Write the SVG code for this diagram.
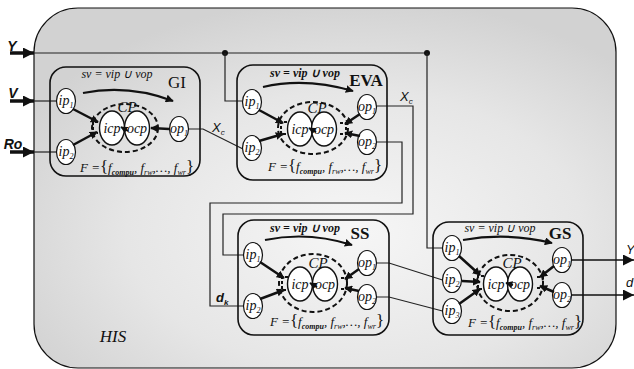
<svg xmlns="http://www.w3.org/2000/svg" width="634" height="369" viewBox="0 0 634 369">
<defs>
<radialGradient id="bg" cx="0.55" cy="0.62" r="0.65">
<stop offset="0" stop-color="#f6f6f6"/>
<stop offset="0.6" stop-color="#e6e6e6"/>
<stop offset="1" stop-color="#d2d2d2"/>
</radialGradient>
<marker id="ah" viewBox="0 0 10 10" refX="9" refY="5" markerWidth="8" markerHeight="8" markerUnits="userSpaceOnUse" orient="auto"><path d="M0,0 L10,5 L0,10 z" fill="#111"/></marker>
<marker id="ahb" viewBox="0 0 10 10" refX="10" refY="5" markerWidth="11" markerHeight="11" markerUnits="userSpaceOnUse" orient="auto"><path d="M0,0 L10,5 L0,10 z" fill="#111"/></marker>
<marker id="ahs" viewBox="0 0 10 10" refX="9" refY="5" markerWidth="7" markerHeight="7" markerUnits="userSpaceOnUse" orient="auto"><path d="M0,0 L10,5 L0,10 z" fill="#111"/></marker>
</defs>
<style>
.blk{fill:none;stroke:#111;stroke-width:1.6}
.pe{fill:#fff;stroke:#111;stroke-width:1.2}
.ce{fill:#fff;stroke:#111;stroke-width:1.4}
.cp{fill:none;stroke:#111;stroke-width:2;stroke-dasharray:5 3}
.br{fill:none;stroke:#111;stroke-width:2;stroke-dasharray:3 2}
.ta{stroke:#111;stroke-width:2.5;fill:none;marker-end:url(#ah)}
.ca{stroke:#111;stroke-width:2.2;fill:none;marker-end:url(#ah)}
.sa{stroke:#111;stroke-width:2;marker-end:url(#ahs)}
.ln{fill:none;stroke:#222;stroke-width:1.2}
.ia{stroke:#111;stroke-width:3.5;marker-end:url(#ahb)}
.oa{stroke:#111;stroke-width:1.3;marker-end:url(#ahb)}
.s{font-family:"Liberation Serif","Times New Roman",serif;font-style:italic;fill:#111}
.sv{font-size:12px;text-anchor:middle}
.nm{font-family:"Liberation Serif","Times New Roman",serif;font-size:17px;fill:#111;text-anchor:middle}
.pl{font-size:14px;text-anchor:middle}
.cl{font-size:14px;text-anchor:middle}
.cpt{font-size:15px;text-anchor:middle}
.ft{font-size:13px;text-anchor:middle}
.sans{font-family:"Liberation Sans",Arial,sans-serif;font-style:italic;fill:#111}
</style>

<g id="HIS">
<rect x="34" y="8" width="582" height="360" rx="44" fill="url(#bg)" stroke="#111" stroke-width="1.2"/>
<text class="s" x="113" y="342" font-size="17" text-anchor="middle">HIS</text>
</g>

<g id="connectors">
<line class="ia" x1="10" y1="53" x2="34" y2="53"/>
<line class="ia" x1="10" y1="101" x2="34" y2="101"/>
<line class="ia" x1="10" y1="152" x2="34" y2="152"/>
<path class="ln" d="M34 53 H427"/>
<circle cx="225" cy="53" r="3" fill="#111"/>
<circle cx="427" cy="53" r="3" fill="#111"/>
<path class="ln" d="M225 53 V101 H242.5"/>
<path class="ln" d="M427 53 V248 H442.5"/>
<path class="ln" d="M34 101 H56.5"/>
<path class="ln" d="M34 152 H56.5"/>
<path class="ln" d="M188.5 129 H203 L243 149"/>
<path class="ln" d="M376.5 106 H413 V214 H223 V255 H243.5"/>
<path class="ln" d="M376.5 142 H402 V203 H210 V306 H243.5"/>
<path class="ln" d="M376.5 263 H389 L442.5 280"/>
<path class="ln" d="M376.5 297 H389 L442.5 311"/>
<line class="oa" x1="571.5" y1="260" x2="634" y2="260"/>
<line class="oa" x1="571.5" y1="295" x2="634" y2="295"/>
<text class="sans" x="12" y="51" font-size="14" font-weight="bold" text-anchor="middle">Y</text>
<text class="sans" x="13" y="98" font-size="14" font-weight="bold" text-anchor="middle">V</text>
<text class="sans" x="13" y="149" font-size="14" font-weight="bold" text-anchor="middle">Ro</text>
<text class="sans" x="212" y="132" font-size="13">X<tspan font-size="8" dy="3">c</tspan></text>
<text class="sans" x="400" y="101" font-size="13">X<tspan font-size="8" dy="3">c</tspan></text>
<text class="sans" x="216" y="302" font-size="13" font-weight="bold">d<tspan font-size="8" dy="3">k</tspan></text>
<text class="sans" x="626" y="254" font-size="13">Y</text>
<text class="sans" x="626" y="287" font-size="13">d</text>
</g>

<g id="GI">
<rect class="blk" x="50" y="67" width="150" height="109" rx="16"/>
<text class="s sv" x="117" y="78" fill="#333">sv = vip ∪ vop</text>
<text class="nm" x="177" y="88">GI</text>
<path class="ca" d="M83 93 Q128 84 173 101"/>
<ellipse class="cp" cx="125" cy="128" rx="33" ry="24"/>
<ellipse class="ce" cx="112" cy="128" rx="12.5" ry="17"/>
<ellipse class="ce" cx="137" cy="128" rx="12.5" ry="17"/>
<text class="s cpt" x="127" y="112">CP</text>
<text class="s cl" x="112" y="133">icp</text>
<text class="s cl" x="137" y="133">ocp</text>
<line class="sa" x1="128" y1="131" x2="121" y2="127"/>
<path class="br" d="M98 122 h-5 v11 h5"/>
<ellipse class="pe" cx="66" cy="101" rx="9.5" ry="12.5"/>
<text class="s pl" x="66" y="105">ip<tspan font-size="8" dy="3">1</tspan></text>
<ellipse class="pe" cx="66" cy="152" rx="9.5" ry="12.5"/>
<text class="s pl" x="66" y="156">ip<tspan font-size="8" dy="3">2</tspan></text>
<ellipse class="pe" cx="179" cy="129" rx="9.5" ry="12.5"/>
<text class="s pl" x="179" y="133">op<tspan font-size="8" dy="3">1</tspan></text>
<line class="ta" x1="73" y1="109" x2="98" y2="122"/>
<line class="ta" x1="73" y1="145" x2="97" y2="132"/>
<line class="ta" x1="169" y1="129" x2="151" y2="128"/>
<text class="s ft" x="137" y="172">F =<tspan font-size="17" font-style="normal">{</tspan>f<tspan font-size="8" font-weight="bold" dy="3">compu</tspan><tspan dy="-3">, f</tspan><tspan font-size="8" dy="3">rw</tspan><tspan dy="-3">,…, f</tspan><tspan font-size="8" dy="3">wr</tspan><tspan dy="-3" font-size="17" font-style="normal">}</tspan></text>
</g>

<g id="EVA">
<rect class="blk" x="237" y="65" width="150" height="115" rx="16"/>
<text class="s sv" x="305" y="77" font-weight="bold">sv = vip ∪ vop</text>
<text class="nm" x="366" y="86" font-weight="bold">EVA</text>
<path class="ca" d="M263 87 Q305 77 353 91"/>
<ellipse class="cp" cx="313" cy="128" rx="35" ry="26"/>
<ellipse class="ce" cx="300" cy="129" rx="12.5" ry="17"/>
<ellipse class="ce" cx="324" cy="129" rx="12.5" ry="17"/>
<text class="s cpt" x="317" y="113">CP</text>
<text class="s cl" x="300" y="134">icp</text>
<text class="s cl" x="324" y="134">ocp</text>
<line class="sa" x1="316" y1="132" x2="309" y2="128"/>
<path class="br" d="M287 122 h-6 v12 h6"/>
<path class="br" d="M340 123 h6 v11 h-6"/>
<ellipse class="pe" cx="252" cy="102" rx="9.5" ry="12.5"/>
<text class="s pl" x="252" y="106">ip<tspan font-size="8" dy="3">1</tspan></text>
<ellipse class="pe" cx="252" cy="148" rx="9.5" ry="12.5"/>
<text class="s pl" x="252" y="152">ip<tspan font-size="8" dy="3">2</tspan></text>
<ellipse class="pe" cx="367" cy="107" rx="9.5" ry="12.5"/>
<text class="s pl" x="367" y="111">op<tspan font-size="8" dy="3">1</tspan></text>
<ellipse class="pe" cx="367" cy="142" rx="9.5" ry="12.5"/>
<text class="s pl" x="367" y="146">op<tspan font-size="8" dy="3">2</tspan></text>
<line class="ta" x1="259" y1="110" x2="283" y2="123"/>
<line class="ta" x1="259" y1="141" x2="283" y2="134"/>
<line class="ta" x1="360" y1="114" x2="345" y2="124"/>
<line class="ta" x1="360" y1="136" x2="345" y2="133"/>
<text class="s ft" x="325" y="171">F =<tspan font-size="17" font-style="normal">{</tspan>f<tspan font-size="8" font-weight="bold" dy="3">compu</tspan><tspan dy="-3">, f</tspan><tspan font-size="8" dy="3">rw</tspan><tspan dy="-3">,…, f</tspan><tspan font-size="8" dy="3">wr</tspan><tspan dy="-3" font-size="17" font-style="normal">}</tspan></text>
</g>

<g id="SS">
<rect class="blk" x="238" y="220" width="151" height="115" rx="16"/>
<text class="s sv" x="305" y="232" font-weight="bold">sv = vip ∪ vop</text>
<text class="nm" x="360" y="239" font-weight="bold">SS</text>
<path class="ca" d="M265 240 Q308 231 352 245"/>
<ellipse class="cp" cx="313" cy="283" rx="34" ry="29"/>
<ellipse class="ce" cx="300" cy="284" rx="12.5" ry="17"/>
<ellipse class="ce" cx="325" cy="284" rx="12.5" ry="17"/>
<text class="s cpt" x="318" y="268">CP</text>
<text class="s cl" x="300" y="289">icp</text>
<text class="s cl" x="325" y="289">ocp</text>
<line class="sa" x1="317" y1="287" x2="310" y2="283"/>
<path class="br" d="M288 277 h-6 v13 h6"/>
<path class="br" d="M341 278 h6 v11 h-6"/>
<ellipse class="pe" cx="253" cy="255" rx="9.5" ry="12.5"/>
<text class="s pl" x="253" y="259">ip<tspan font-size="8" dy="3">1</tspan></text>
<ellipse class="pe" cx="253" cy="306" rx="9.5" ry="12.5"/>
<text class="s pl" x="253" y="310">ip<tspan font-size="8" dy="3">2</tspan></text>
<ellipse class="pe" cx="367" cy="263" rx="9.5" ry="12.5"/>
<text class="s pl" x="367" y="267">op<tspan font-size="8" dy="3">1</tspan></text>
<ellipse class="pe" cx="367" cy="297" rx="9.5" ry="12.5"/>
<text class="s pl" x="367" y="301">op<tspan font-size="8" dy="3">2</tspan></text>
<line class="ta" x1="260" y1="262" x2="284" y2="278"/>
<line class="ta" x1="260" y1="299" x2="284" y2="290"/>
<line class="ta" x1="359" y1="269" x2="345" y2="279"/>
<line class="ta" x1="359" y1="291" x2="345" y2="288"/>
<text class="s ft" x="327" y="326">F =<tspan font-size="17" font-style="normal">{</tspan>f<tspan font-size="8" font-weight="bold" dy="3">compu</tspan><tspan dy="-3">, f</tspan><tspan font-size="8" dy="3">rw</tspan><tspan dy="-3">,…, f</tspan><tspan font-size="8" dy="3">wr</tspan><tspan dy="-3" font-size="17" font-style="normal">}</tspan></text>
</g>

<g id="GS">
<rect class="blk" x="433" y="222" width="150" height="113" rx="16"/>
<text class="s sv" x="500" y="232">sv = vip ∪ vop</text>
<text class="nm" x="560" y="239" font-weight="bold">GS</text>
<path class="ca" d="M463 240 Q507 232 552 243"/>
<ellipse class="cp" cx="510" cy="283" rx="33" ry="28"/>
<ellipse class="ce" cx="496" cy="284" rx="12.5" ry="17"/>
<ellipse class="ce" cx="520" cy="284" rx="12.5" ry="17"/>
<text class="s cpt" x="512" y="268">CP</text>
<text class="s cl" x="496" y="289">icp</text>
<text class="s cl" x="520" y="289">ocp</text>
<line class="sa" x1="513" y1="285" x2="506" y2="283"/>
<path class="br" d="M484 276 h-6 v13 h6"/>
<path class="br" d="M537 277 h6 v11 h-6"/>
<ellipse class="pe" cx="452" cy="248" rx="9.5" ry="12.5"/>
<text class="s pl" x="452" y="252">ip<tspan font-size="8" dy="3">1</tspan></text>
<ellipse class="pe" cx="452" cy="280" rx="9.5" ry="12.5"/>
<text class="s pl" x="452" y="284">ip<tspan font-size="8" dy="3">2</tspan></text>
<ellipse class="pe" cx="452" cy="311" rx="9.5" ry="12.5"/>
<text class="s pl" x="452" y="315">ip<tspan font-size="8" dy="3">3</tspan></text>
<ellipse class="pe" cx="562" cy="260" rx="9.5" ry="12.5"/>
<text class="s pl" x="562" y="264">op<tspan font-size="8" dy="3">1</tspan></text>
<ellipse class="pe" cx="562" cy="295" rx="9.5" ry="12.5"/>
<text class="s pl" x="562" y="299">op<tspan font-size="8" dy="3">2</tspan></text>
<line class="ta" x1="459" y1="256" x2="480" y2="275"/>
<line class="ta" x1="462" y1="281" x2="480" y2="282"/>
<line class="ta" x1="459" y1="304" x2="480" y2="289"/>
<line class="ta" x1="554" y1="266" x2="540" y2="277"/>
<line class="ta" x1="554" y1="292" x2="540" y2="286"/>
<text class="s ft" x="525" y="327">F =<tspan font-size="17" font-style="normal">{</tspan>f<tspan font-size="8" font-weight="bold" dy="3">compu</tspan><tspan dy="-3">, f</tspan><tspan font-size="8" dy="3">rw</tspan><tspan dy="-3">,…, f</tspan><tspan font-size="8" dy="3">wr</tspan><tspan dy="-3" font-size="17" font-style="normal">}</tspan></text>
</g>
</svg>
